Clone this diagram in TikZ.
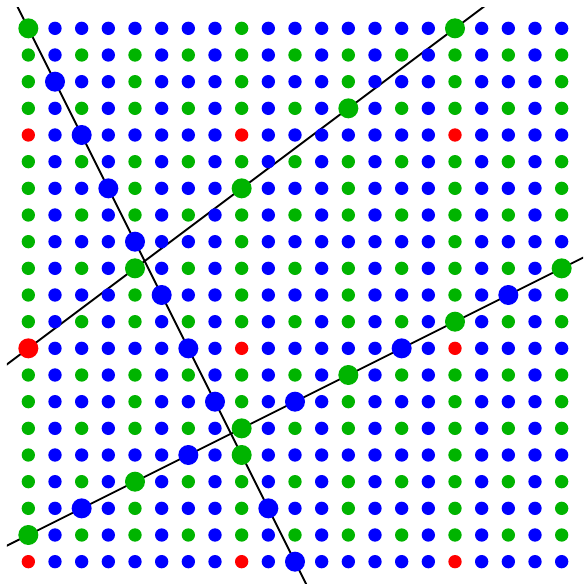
\documentclass[tikz,border=0pt]{standalone}
\usetikzlibrary{backgrounds}
\definecolor{dotblue}{RGB}{0,0,255}
\definecolor{dotgreen}{RGB}{0,180,0}
\definecolor{dotred}{RGB}{255,0,0}
\tikzset{
  dot/.style={circle,inner sep=0pt,minimum size=5mm},
  bigdot/.style={dot,minimum size=7.5mm},
  sz0/.style={dot},
  sz1/.style={bigdot},
  pt0/.style={fill=dotblue},
  pt1/.style={fill=dotgreen},
  pt2/.style={fill=dotred},
  cut/.style={line width=2pt,shorten <=-3cm,shorten >=-3cm},
}
\begin{document}
\begin{tikzpicture}[x=1cm,y=-1cm]
\useasboundingbox (-1.0625,-1.0625) rectangle (20.8375,20.8375);

% lattice points, colour by row and column class
\foreach \i in {0,...,20}{
  \foreach \j in {0,...,20}{
    \pgfmathtruncatemacro\kind{ifthenelse(mod(\j,2)==1,mod(\i,2)==0,
      ifthenelse(mod(\j,4)==2,mod(\i,4)==0,
      ifthenelse(mod(\j,8)==0,mod(\i,8)==0,2*(mod(\i,8)==0))))}
    \pgfmathtruncatemacro\onln{(\j==2*\i)||(3*\i+4*\j==48)||(\i+2*\j==38)}
    \node[sz\onln,pt\kind] (d-\i-\j) at (\i,\j) {};
  }
}

\begin{scope}[on background layer]
  \clip (-0.8,-0.8) rectangle (20.8,20.8);
  \draw[cut] (d-0-0.center) -- (d-10-20.center);
  \draw[cut] (d-0-12.center) -- (d-16-0.center);
  \draw[cut] (d-0-19.center) -- (d-20-9.center);
\end{scope}

\end{tikzpicture}
\end{document}
